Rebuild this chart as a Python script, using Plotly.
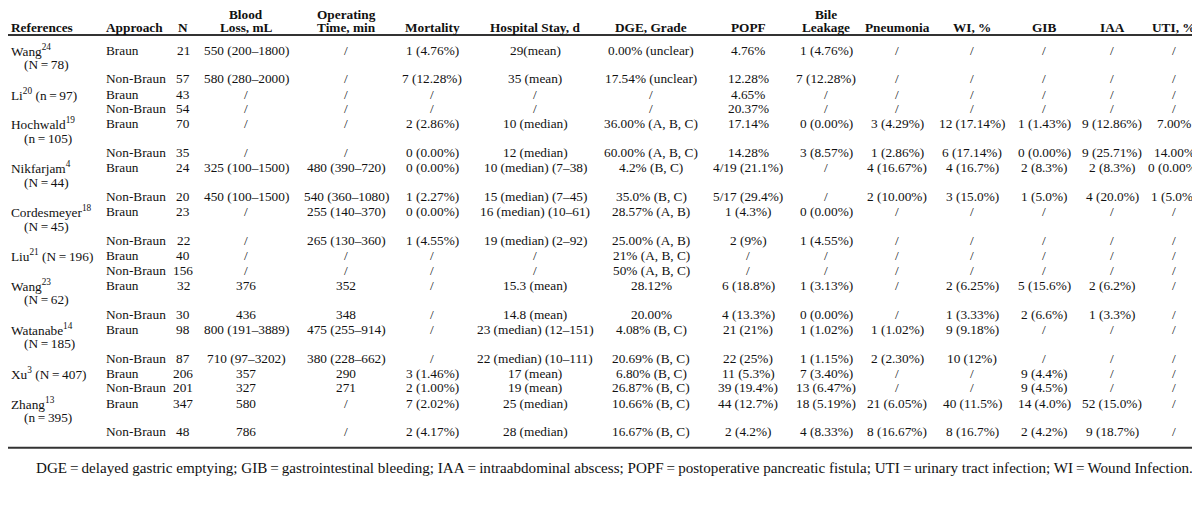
import plotly.graph_objects as go

# ---------------- data ----------------
studies = ["Wang<sup>24</sup>", "Li<sup>20</sup> (n\u2009=\u200997)", "Hochwald<sup>19</sup>",
           "Nikfarjam<sup>4</sup>", "Cordesmeyer<sup>18</sup>", "Liu<sup>21</sup> (N\u2009=\u2009196)",
           "Wang<sup>23</sup>", "Watanabe<sup>14</sup>", "Xu<sup>3</sup> (N\u2009=\u2009407)",
           "Zhang<sup>13</sup>"]
study_sizes = ["(N\u2009=\u200978)", "", "(n\u2009=\u2009105)", "(N\u2009=\u200944)", "(N\u2009=\u200945)",
               "", "(N\u2009=\u200962)", "(N\u2009=\u2009185)", "", "(n\u2009=\u2009395)"]
approach = ["Braun", "Non-Braun"] * 10
n_pat = ["21", "57", "43", "54", "70", "35", "24", "20", "23", "22", "40", "156", "32", "30",
         "98", "87", "206", "201", "347", "48"]
blood_loss = ["550 (200\u20131800)", "580 (280\u20132000)", "/", "/", "/", "/",
              "325 (100\u20131500)", "450 (100\u20131500)", "/", "/", "/", "/", "376", "436",
              "800 (191\u20133889)", "710 (97\u20133202)", "357", "327", "580", "786"]
op_time = ["/", "/", "/", "/", "/", "/", "480 (390\u2013720)", "540 (360\u20131080)",
           "255 (140\u2013370)", "265 (130\u2013360)", "/", "/", "352", "348",
           "475 (255\u2013914)", "380 (228\u2013662)", "290", "271", "/", "/"]
mortality = ["1 (4.76%)", "7 (12.28%)", "/", "/", "2 (2.86%)", "0 (0.00%)", "0 (0.00%)",
             "1 (2.27%)", "0 (0.00%)", "1 (4.55%)", "/", "/", "/", "/", "/", "/",
             "3 (1.46%)", "2 (1.00%)", "7 (2.02%)", "2 (4.17%)"]
hospital = ["29(mean)", "35 (mean)", "/", "/", "10 (median)", "12 (median)",
            "10 (median) (7\u201338)", "15 (median) (7\u201345)", "16 (median) (10\u201361)",
            "19 (median) (2\u201392)", "/", "/", "15.3 (mean)", "14.8 (mean)",
            "23 (median) (12\u2013151)", "22 (median) (10\u2013111)", "17 (mean)", "19 (mean)",
            "25 (median)", "28 (median)"]
dge = ["0.00% (unclear)", "17.54% (unclear)", "/", "/", "36.00% (A, B, C)", "60.00% (A, B, C)",
       "4.2% (B, C)", "35.0% (B, C)", "28.57% (A, B)", "25.00% (A, B)", "21% (A, B, C)",
       "50% (A, B, C)", "28.12%", "20.00%", "4.08% (B, C)", "20.69% (B, C)", "6.80% (B, C)",
       "26.87% (B, C)", "10.66% (B, C)", "16.67% (B, C)"]
popf = ["4.76%", "12.28%", "4.65%", "20.37%", "17.14%", "14.28%", "4/19 (21.1%)", "5/17 (29.4%)",
        "1 (4.3%)", "2 (9%)", "/", "/", "6 (18.8%)", "4 (13.3%)", "21 (21%)", "22 (25%)",
        "11 (5.3%)", "39 (19.4%)", "44 (12.7%)", "2 (4.2%)"]
bile = ["1 (4.76%)", "7 (12.28%)", "/", "/", "0 (0.00%)", "3 (8.57%)", "/", "/", "0 (0.00%)",
        "1 (4.55%)", "/", "/", "1 (3.13%)", "0 (0.00%)", "1 (1.02%)", "1 (1.15%)", "7 (3.40%)",
        "13 (6.47%)", "18 (5.19%)", "4 (8.33%)"]
pneumonia = ["/", "/", "/", "/", "3 (4.29%)", "1 (2.86%)", "4 (16.67%)", "2 (10.00%)", "/", "/",
             "/", "/", "/", "/", "1 (1.02%)", "2 (2.30%)", "/", "/", "21 (6.05%)", "8 (16.67%)"]
wi = ["/", "/", "/", "/", "12 (17.14%)", "6 (17.14%)", "4 (16.7%)", "3 (15.0%)", "/", "/", "/", "/",
      "2 (6.25%)", "1 (3.33%)", "9 (9.18%)", "10 (12%)", "/", "/", "40 (11.5%)", "8 (16.7%)"]
gib = ["/", "/", "/", "/", "1 (1.43%)", "0 (0.00%)", "2 (8.3%)", "1 (5.0%)", "/", "/", "/", "/",
       "5 (15.6%)", "2 (6.6%)", "/", "/", "9 (4.4%)", "9 (4.5%)", "14 (4.0%)", "2 (4.2%)"]
iaa = ["/", "/", "/", "/", "9 (12.86%)", "9 (25.71%)", "2 (8.3%)", "4 (20.0%)", "/", "/", "/", "/",
       "2 (6.2%)", "1 (3.3%)", "/", "/", "/", "/", "52 (15.0%)", "9 (18.7%)"]
uti = ["/", "/", "/", "/", "7.00%", "14.00%", "0 (0.00%)", "1 (5.0%)", "/", "/", "/", "/",
       "/", "/", "/", "/", "/", "/", "/", "/"]

header_top = ["", "", "", "Blood", "Operating", "", "", "", "", "Bile", "", "", "", "", ""]
header_bottom = ["References", "Approach", "N", "Loss, mL", "Time, min", "Mortality",
                 "Hospital Stay, d", "DGE, Grade", "POPF", "Leakage", "Pneumonia", "WI, %",
                 "GIB", "IAA", "UTI, %"]
footnote = ("DGE\u2009=\u2009delayed gastric emptying; GIB\u2009=\u2009gastrointestinal bleeding; "
            "IAA\u2009=\u2009intraabdominal abscess; POPF\u2009=\u2009postoperative pancreatic fistula; "
            "UTI\u2009=\u2009urinary tract infection; WI\u2009=\u2009Wound Infection.")

# ---------------- layout / style ----------------
W, H = 1200, 517
FONT = "Liberation Serif"
FS = 13.3
COLOR = "#111111"
col_x = [2, 97, 175, 238, 338, 424, 527, 643, 740, 818, 889, 964, 1036, 1104, 1166]
col_anchor = ["left", "left"] + ["center"] * 13
indent_x = 15
hdr_y1, hdr_y2, hdr_rule = 6, 19, 27
first_row = 42
pitch_in, pitch_between = 14.2, 15.6
bottom_gap = 16
foot_gap = 20

columns = [approach, n_pat, blood_loss, op_time, mortality, hospital, dge, popf, bile,
           pneumonia, wi, gib, iaa, uti]

# compute row positions from line counts
row_y = []
study_y = []
size_y = []
y = first_row
last = y
for i, s in enumerate(studies):
    study_y.append(y)
    row_y.append(y)
    if study_sizes[i]:
        size_y.append(y + pitch_in)
        row_y.append(y + 2 * pitch_in)
        last = y + 2 * pitch_in
    else:
        size_y.append(None)
        row_y.append(y + pitch_in)
        last = y + pitch_in
    y = last + pitch_between
bottom_rule = last + bottom_gap
foot_y = bottom_rule + foot_gap

fig = go.Figure()
ann = []


def add(x, yy, text, anchor, bold=False, size=FS):
    ann.append(dict(x=x, y=yy, xref="x", yref="y", text=f"<b>{text}</b>" if bold else text,
                    showarrow=False, xanchor=anchor, yanchor="middle",
                    font=dict(family=FONT, size=size, color=COLOR), borderpad=0))


for j in range(15):
    if header_top[j]:
        add(col_x[j], hdr_y1, header_top[j], col_anchor[j], bold=True)
    add(col_x[j], hdr_y2, header_bottom[j], col_anchor[j], bold=True)

for i, s in enumerate(studies):
    add(col_x[0], study_y[i], s, "left")
    if study_sizes[i]:
        add(indent_x, size_y[i], study_sizes[i], "left")

for j, col in enumerate(columns, start=1):
    for r, v in enumerate(col):
        add(col_x[j], row_y[r], v, col_anchor[j])

add(606, foot_y, footnote, "center", size=15.1)

shapes = [
    dict(type="line", xref="x", yref="y", x0=0, x1=W, y0=hdr_rule, y1=hdr_rule,
         line=dict(color="#333333", width=2)),
    dict(type="line", xref="x", yref="y", x0=0, x1=W, y0=bottom_rule, y1=bottom_rule,
         line=dict(color="#333333", width=2)),
]

fig.update_layout(
    width=W, height=H, margin=dict(l=0, r=0, t=0, b=0),
    paper_bgcolor="white", plot_bgcolor="white",
    xaxis=dict(range=[0, W], visible=False, fixedrange=True),
    yaxis=dict(range=[H, 0], visible=False, fixedrange=True),
    annotations=ann, shapes=shapes, showlegend=False,
)
fig.write_html("out.html")
